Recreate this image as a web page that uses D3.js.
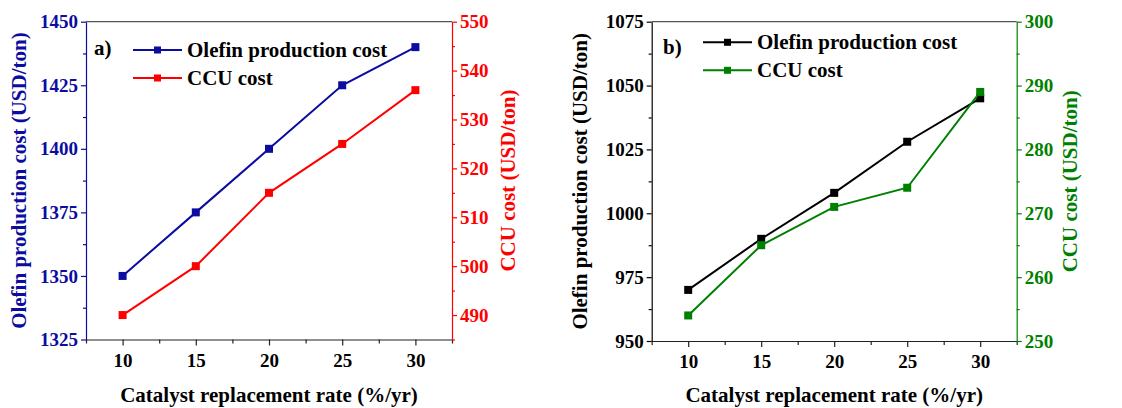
<!DOCTYPE html>
<html>
<head>
<meta charset="utf-8">
<script src="https://cdn.jsdelivr.net/npm/d3@7/dist/d3.min.js"></script>
<style>
  html, body { margin: 0; padding: 0; background: #fff; }
</style>
</head>
<body>
<svg id="chart" width="1122" height="408"></svg>
<script>
// Catalyst replacement rate (%/yr)
const rates = [10, 15, 20, 25, 30];

// Panel a
const olefinCostA = [1350, 1375, 1400, 1425, 1440];
const ccuCostA = [490, 500, 515, 525, 536];
const leftTicksA = [1325, 1350, 1375, 1400, 1425, 1450];
const rightTicksA = [490, 500, 510, 520, 530, 540, 550];

// Panel b
const olefinCostB = [970, 990, 1008, 1028, 1045];
const ccuCostB = [254, 265, 271, 274, 289];
const leftTicksB = [950, 975, 1000, 1025, 1050, 1075];
const rightTicksB = [250, 260, 270, 280, 290, 300];

const xTicks = [10, 15, 20, 25, 30];
const xMinorTicks = [7.5, 12.5, 17.5, 22.5, 27.5, 32.5];

const FONT = "'Liberation Serif', 'Times New Roman', Times, serif";
const svg = d3.select("#chart");

function styleText(sel, size, color) {
  sel.attr("font-family", FONT).style("font-family", FONT)
    .attr("font-weight", "bold").attr("font-size", size).attr("fill", color);
}

function drawPanel(cfg) {
  const g = svg.append("g");
  const x = d3.scaleLinear().domain([7.5, 32.5]).range([cfg.left, cfg.right]);
  const yL = d3.scaleLinear().domain(cfg.leftDomain).range([cfg.bottom, cfg.top]);
  const yR = d3.scaleLinear().domain(cfg.rightDomain).range([cfg.bottom, cfg.top]);
  const fmt = d3.format("d");

  // top frame line
  g.append("line")
    .attr("x1", cfg.left).attr("x2", cfg.right)
    .attr("y1", cfg.top).attr("y2", cfg.top)
    .attr("stroke", "#555").attr("stroke-width", 1.2);

  // bottom axis
  const xAxis = g.append("g").attr("transform", `translate(0,${cfg.bottom})`)
    .call(d3.axisBottom(x).tickValues(xTicks).tickFormat(fmt).tickSize(6).tickPadding(8).tickSizeOuter(0));
  g.append("g").attr("transform", `translate(0,${cfg.bottom})`)
    .call(d3.axisBottom(x).tickValues(xMinorTicks).tickSize(4).tickFormat("").tickSizeOuter(0))
    .call(s => s.select(".domain").remove())
    .selectAll("line").attr("stroke", "#222").attr("stroke-width", 1.2);
  xAxis.select(".domain").attr("stroke", "#222").attr("stroke-width", 1.2);
  xAxis.selectAll(".tick line").attr("stroke", "#222").attr("stroke-width", 1.2);
  styleText(xAxis.selectAll("text"), 19, "#000");

  // left axis
  const leftMinor = d3.range(cfg.leftDomain[0], cfg.leftDomain[1] + 0.001, cfg.leftStep / 2)
    .filter(v => !cfg.leftTicks.includes(v));
  const lAxis = g.append("g").attr("transform", `translate(${cfg.left},0)`)
    .call(d3.axisLeft(yL).tickValues(cfg.leftTicks).tickFormat(fmt).tickSize(5).tickPadding(3).tickSizeOuter(0));
  g.append("g").attr("transform", `translate(${cfg.left},0)`)
    .call(d3.axisLeft(yL).tickValues(leftMinor).tickSize(3).tickFormat("").tickSizeOuter(0))
    .call(s => s.select(".domain").remove())
    .selectAll("line").attr("stroke", cfg.leftColor).attr("stroke-width", 1.2);
  lAxis.select(".domain").attr("stroke", cfg.leftColor).attr("stroke-width", 1.2);
  lAxis.selectAll(".tick line").attr("stroke", cfg.leftColor).attr("stroke-width", 1.2);
  styleText(lAxis.selectAll("text"), 19, cfg.leftColor);

  // right axis
  const rightMinor = d3.range(cfg.rightDomain[0], cfg.rightDomain[1] + 0.001, cfg.rightStep / 2)
    .filter(v => !cfg.rightTicks.includes(v));
  const rAxis = g.append("g").attr("transform", `translate(${cfg.right},0)`)
    .call(d3.axisRight(yR).tickValues(cfg.rightTicks).tickFormat(fmt).tickSize(5).tickPadding(3).tickSizeOuter(0));
  g.append("g").attr("transform", `translate(${cfg.right},0)`)
    .call(d3.axisRight(yR).tickValues(rightMinor).tickSize(3).tickFormat("").tickSizeOuter(0))
    .call(s => s.select(".domain").remove())
    .selectAll("line").attr("stroke", cfg.rightColor).attr("stroke-width", 1.2);
  rAxis.select(".domain").attr("stroke", cfg.rightColor).attr("stroke-width", 1.2);
  rAxis.selectAll(".tick line").attr("stroke", cfg.rightColor).attr("stroke-width", 1.2);
  styleText(rAxis.selectAll("text"), 19, cfg.rightColor);

  // series
  const series = [
    { values: cfg.olefin, y: yL, color: cfg.olefinColor },
    { values: cfg.ccu, y: yR, color: cfg.rightColor }
  ];
  series.forEach(s => {
    const pts = rates.map((r, i) => [r, s.values[i]]);
    g.append("path")
      .attr("d", d3.line().x(d => x(d[0])).y(d => s.y(d[1]))(pts))
      .attr("fill", "none").attr("stroke", s.color).attr("stroke-width", 2);
    g.selectAll(null).data(pts).enter().append("rect")
      .attr("x", d => x(d[0]) - 4).attr("y", d => s.y(d[1]) - 4)
      .attr("width", 8).attr("height", 8).attr("fill", s.color);
  });

  // axis titles
  styleText(g.append("text")
    .attr("transform", `translate(${cfg.leftTitleX},${(cfg.top + cfg.bottom) / 2}) rotate(-90)`)
    .attr("text-anchor", "middle").attr("dominant-baseline", "central")
    .text("Olefin production cost (USD/ton)"), 21, cfg.leftColor);
  styleText(g.append("text")
    .attr("transform", `translate(${cfg.rightTitleX},${(cfg.top + cfg.bottom) / 2}) rotate(-90)`)
    .attr("text-anchor", "middle").attr("dominant-baseline", "central")
    .text("CCU cost (USD/ton)"), 21, cfg.rightColor);
  styleText(g.append("text")
    .attr("x", (cfg.left + cfg.right) / 2).attr("y", 402)
    .attr("text-anchor", "middle")
    .text("Catalyst replacement rate (%/yr)"), 21, "#000");

  // panel label
  styleText(g.append("text").attr("x", cfg.labelX).attr("y", cfg.labelY).text(cfg.label), 21, "#000");

  // legend
  const legend = [
    { name: "Olefin production cost", color: cfg.olefinColor },
    { name: "CCU cost", color: cfg.rightColor }
  ];
  legend.forEach((d, i) => {
    const ly = cfg.legendY + i * cfg.legendGap;
    g.append("line").attr("x1", cfg.legendX).attr("x2", cfg.legendX + 49)
      .attr("y1", ly).attr("y2", ly).attr("stroke", d.color).attr("stroke-width", 2);
    g.append("rect").attr("x", cfg.legendX + 24.5 - 3.5).attr("y", ly - 3.5)
      .attr("width", 7).attr("height", 7).attr("fill", d.color);
    styleText(g.append("text").attr("x", cfg.legendX + 54).attr("y", ly)
      .attr("dominant-baseline", "central").text(d.name), 21, "#000");
  });
}

drawPanel({
  left: 86, right: 452, top: 21.7, bottom: 339.5,
  leftDomain: [1325, 1450], leftTicks: leftTicksA, leftStep: 25,
  rightDomain: [485, 550], rightTicks: rightTicksA, rightStep: 10,
  olefin: olefinCostA, ccu: ccuCostA,
  leftColor: "#0c0ca0", olefinColor: "#0c0ca0", rightColor: "#ff0000",
  leftTitleX: 19, rightTitleX: 508,
  label: "a)", labelX: 94, labelY: 55,
  legendX: 133, legendY: 50, legendGap: 28
});

drawPanel({
  left: 651.7, right: 1016.7, top: 21.7, bottom: 341,
  leftDomain: [950, 1075], leftTicks: leftTicksB, leftStep: 25,
  rightDomain: [250, 300], rightTicks: rightTicksB, rightStep: 10,
  olefin: olefinCostB, ccu: ccuCostB,
  leftColor: "#000000", olefinColor: "#000000", rightColor: "#008000",
  leftTitleX: 580, rightTitleX: 1070,
  label: "b)", labelX: 663, labelY: 54,
  legendX: 703, legendY: 42.3, legendGap: 28
});
</script>
</body>
</html>
